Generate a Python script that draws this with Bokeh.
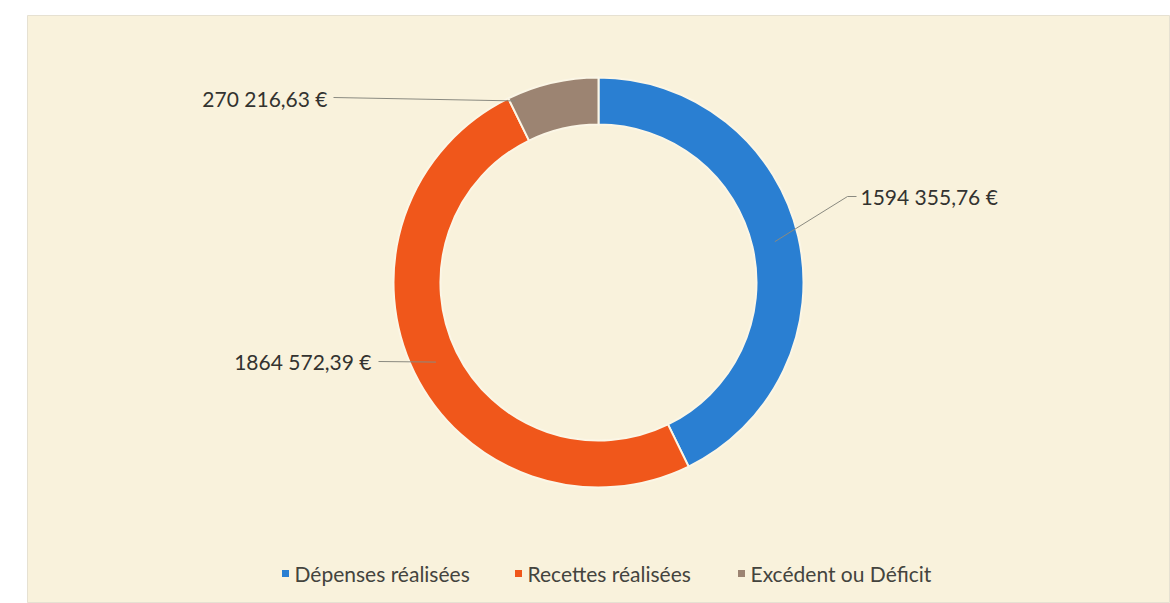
import math
from bokeh.plotting import figure
from bokeh.models import Range1d, ColumnDataSource
from bokeh.core.properties import value
from bokeh.embed import file_html
from bokeh.resources import INLINE

# ---- data ----
categories = ["Dépenses réalisées", "Recettes réalisées", "Excédent ou Déficit"]
amounts = [1594355.76, 1864572.39, 270216.63]
amount_labels = ["1594 355,76 €", "1864 572,39 €", "270 216,63 €"]
colors = ["#2a7fd2", "#f0571b", "#9c8472"]

# ---- layout (pixel-like coordinates; y is negative downward) ----
CX, CY = 598, -282
R_IN, R_OUT = 158, 205
FONT = value("Lato")
FS = "21px"

total = sum(amounts)
starts, ends, fr0, fr1 = [], [], [], []
cum = 0.0
for a in amounts:
    f0 = cum / total
    cum += a
    f1 = cum / total
    fr0.append(f0)
    fr1.append(f1)
    starts.append(math.pi / 2 - 2 * math.pi * f1)
    ends.append(math.pi / 2 - 2 * math.pi * f0)

src = ColumnDataSource(dict(cat=categories, start=starts, end=ends, color=colors))

p = figure(width=1170, height=603, x_range=Range1d(27, 1170), y_range=Range1d(-603, -15),
           output_backend="svg", toolbar_location=None,
           min_border_left=27, min_border_top=15, min_border_right=0, min_border_bottom=0)
p.axis.visible = False
p.grid.visible = False
p.background_fill_color = "#f9f2dc"
p.border_fill_color = "white"
p.outline_line_color = "#e6e1d2"

p.annular_wedge(x=CX, y=CY, inner_radius=R_IN, outer_radius=R_OUT,
                start_angle="start", end_angle="end", fill_color="color",
                line_color="#fbf6e6", line_width=2, source=src)

# anchor points on the ring for leader lines
anchor_frac = [0.5, 0.5, 0.05]
anchor_r = [181, 181, 200]
anchors = []
for i in range(3):
    f = fr0[i] + anchor_frac[i] * (fr1[i] - fr0[i])
    th = 2 * math.pi * f
    anchors.append((CX + anchor_r[i] * math.sin(th), CY + anchor_r[i] * math.cos(th)))

# label placement
label_xy = [(860, -196), (371, -361), (327, -98)]
label_align = ["left", "right", "right"]
elbows = [[(847, -196), (856, -196)], [(378, -361)], [(333, -97)]]

for i in range(3):
    ax, ay = anchors[i]
    xs = [ax] + [e[0] for e in elbows[i]]
    ys = [ay] + [e[1] for e in elbows[i]]
    p.line(xs, ys, line_color="#8a8a80", line_width=1)
    p.text(x=[label_xy[i][0]], y=[label_xy[i][1]], text=[amount_labels[i]],
           text_align=label_align[i], text_baseline="middle",
           text_font=FONT, text_font_size=FS, text_color="#333330")

# legend
leg_marker_x = [285, 518, 741]
leg_y = -573
for i in range(3):
    p.rect(x=[leg_marker_x[i]], y=[leg_y], width=7, height=7, fill_color=colors[i], line_color=None)
    p.text(x=[leg_marker_x[i] + 9], y=[leg_y], text=[categories[i]],
           text_align="left", text_baseline="middle",
           text_font=FONT, text_font_size=FS, text_color="#44443e")

open("out.html", "w").write(file_html(p, INLINE))
